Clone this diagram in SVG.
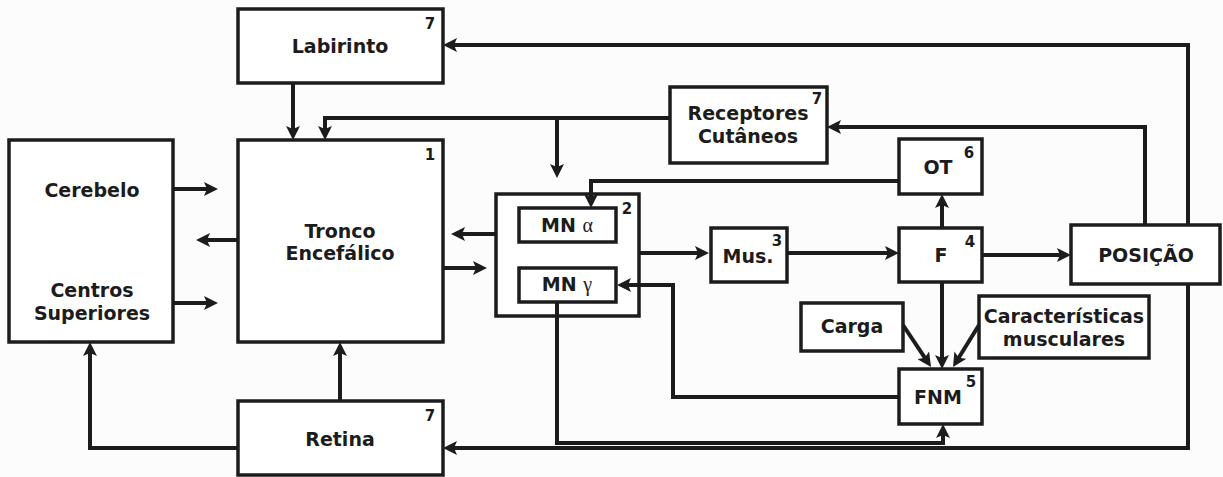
<svg xmlns="http://www.w3.org/2000/svg" width="1223" height="477" viewBox="0 0 1223 477">
<defs>
<style>
.box{fill:#fff;stroke:#1c1c1c;stroke-width:3.5}
.ln{fill:none;stroke:#1c1c1c;stroke-width:4;marker-end:url(#ah)}
.t{font-family:"DejaVu Sans",Verdana,sans-serif;font-weight:bold;font-size:19px;fill:#1c1c1c;text-anchor:middle}
.n{font-family:"DejaVu Sans",Verdana,sans-serif;font-weight:bold;font-size:15px;fill:#1c1c1c;text-anchor:middle}
.g{font-family:"Liberation Serif","Times New Roman",serif;font-weight:normal;font-size:20px}
</style>
<marker id="ah" markerUnits="userSpaceOnUse" markerWidth="16" markerHeight="14" refX="6" refY="7" orient="auto">
<path d="M0,0 L14,7 L0,14 L3,7 z" fill="#1c1c1c"/>
</marker>
</defs>
<rect width="1223" height="477" fill="#fcfcfc"/>
<g id="labirinto"><rect class="box" x="238" y="9" width="205" height="74"/><text class="t" x="340" y="53">Labirinto</text><text class="n" x="430" y="29">7</text></g>
<g id="tronco"><rect class="box" x="238" y="140" width="205" height="202"/><text class="t" x="340" y="238">Tronco</text><text class="t" x="340" y="260">Encefálico</text><text class="n" x="430" y="160">1</text></g>
<g id="cerebelo"><rect class="box" x="9" y="140" width="164" height="202"/><text class="t" x="92" y="197">Cerebelo</text><text class="t" x="92" y="297">Centros</text><text class="t" x="92" y="320">Superiores</text></g>
<g id="retina"><rect class="box" x="238" y="401" width="205" height="74"/><text class="t" x="340" y="446">Retina</text><text class="n" x="430" y="421">7</text></g>
<g id="receptores"><rect class="box" x="670" y="87" width="157" height="76"/><text class="t" x="748" y="120">Receptores</text><text class="t" x="748" y="143">Cutâneos</text><text class="n" x="817" y="104">7</text></g>
<g id="mn"><rect class="box" x="496" y="194" width="143" height="122"/><text class="n" x="627" y="214">2</text></g>
<g id="mn-alpha"><rect class="box" x="519" y="208" width="97" height="34"/><text class="t" x="567" y="232">MN <tspan class="g">α</tspan></text></g>
<g id="mn-gamma"><rect class="box" x="519" y="268" width="97" height="34"/><text class="t" x="567" y="291">MN <tspan class="g">γ</tspan></text></g>
<g id="mus"><rect class="box" x="711" y="228" width="76" height="54"/><text class="t" x="748" y="263">Mus.</text><text class="n" x="777" y="246">3</text></g>
<g id="ot"><rect class="box" x="899" y="139" width="83" height="55"/><text class="t" x="938" y="174">OT</text><text class="n" x="969" y="158">6</text></g>
<g id="f"><rect class="box" x="899" y="228" width="83" height="54"/><text class="t" x="941" y="262">F</text><text class="n" x="970" y="247">4</text></g>
<g id="posicao"><rect class="box" x="1071" y="225" width="149" height="59"/><text class="t" x="1146" y="262">POSIÇÃO</text></g>
<g id="carga"><rect class="box" x="801" y="303" width="102" height="48"/><text class="t" x="852" y="333">Carga</text></g>
<g id="caracteristicas"><rect class="box" x="979" y="296" width="170" height="62"/><text class="t" x="1064" y="323">Características</text><text class="t" x="1064" y="346">musculares</text></g>
<g id="fnm"><rect class="box" x="899" y="369" width="83" height="55"/><text class="t" x="938" y="404">FNM</text><text class="n" x="971" y="387">5</text></g>
<g id="connectors">
<path class="ln" d="M293,83 V132"/>
<path class="ln" d="M670,118 H325 V132"/>
<path class="ln" d="M557,118 V170"/>
<path class="ln" d="M173,189 H210"/>
<path class="ln" d="M238,240 H204"/>
<path class="ln" d="M173,303 H210"/>
<path class="ln" d="M496,234 H459"/>
<path class="ln" d="M443,268 H479"/>
<path class="ln" d="M639,253 H701"/>
<path class="ln" d="M787,253 H891"/>
<path class="ln" d="M942,228 V202"/>
<path class="ln" d="M899,181 H591 V200"/>
<path class="ln" d="M982,255 H1063"/>
<path class="ln" d="M1145,225 V127 H835"/>
<path class="ln" d="M1188,225 V45 H451"/>
<path class="ln" d="M1188,284 V448 H451"/>
<path class="ln" d="M340,401 V350"/>
<path class="ln" d="M238,448 H90 V350"/>
<path class="ln" d="M557,302 V443 H943 V432"/>
<path class="ln" d="M899,397 H673 V285 H625"/>
<path class="ln" d="M942,282 V361"/>
<path class="ln" d="M903,325 L926.6,360.3"/>
<path class="ln" d="M979,325 L957.2,360.2"/>
</g>
</svg>
